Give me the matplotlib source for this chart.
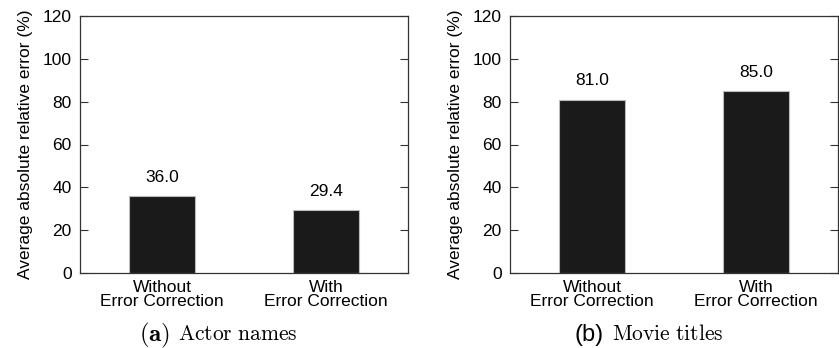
import matplotlib.pyplot as plt

plt.rcParams['font.family'] = ['Liberation Sans', 'DejaVu Sans']
plt.rcParams['mathtext.fontset'] = 'cm'

categories = ["Without\nError Correction", "With\nError Correction"]
actor_err = [36.0, 29.4]
movie_err = [81.0, 85.0]
y_ticks = [0, 20, 40, 60, 80, 100, 120]

fig = plt.figure(figsize=(8.39, 3.48), dpi=100)
W, H = 839, 348

def draw_panel(left_px, values):
    ax = fig.add_axes([left_px / W, 1 - 273 / H, 328 / W, 257 / H])
    x = range(len(values))
    ax.bar(x, values, width=0.4, color='#1a1a1a', edgecolor='#bbbbbb', linewidth=0.8)
    for xi, v in zip(x, values):
        ax.annotate(f"{v:.1f}", (xi, v), xytext=(0, 8), textcoords='offset points',
                    ha='center', va='bottom', fontsize=12.5)
    ax.set_xlim(-0.5, 1.5)
    ax.set_ylim(0, 120)
    ax.set_yticks(y_ticks)
    ax.set_xticks(list(x))
    ax.set_xticklabels(categories, fontsize=12.5, linespacing=0.95)
    ax.tick_params(axis='x', length=0, pad=5)
    ax.tick_params(axis='y', direction='in', right=True, length=6, width=0.8,
                   labelsize=12.5, pad=6, color='#333333')
    for s in ax.spines.values():
        s.set_color('#333333')
        s.set_linewidth(0.9)
    ax.set_ylabel("Average absolute relative error (%)", fontsize=12.5, labelpad=7)
    return ax

draw_panel(80, actor_err)
draw_panel(510, movie_err)

# sub-captions under each panel
cap_y = 1 - 335 / H
fig.text(139 / W, cap_y, r"$\mathbf{(a)}$", ha='left', va='center', fontsize=18)
fig.text(178 / W, cap_y, r"$\mathrm{Actor\ names}$", ha='left', va='center', fontsize=15.5)
fig.text(575 / W, cap_y, "(b)", ha='left', va='center', fontsize=17)
fig.text(612 / W, cap_y, r"$\mathrm{Movie\ titles}$", ha='left', va='center', fontsize=15.5)

fig.savefig("out.png", dpi=100)
